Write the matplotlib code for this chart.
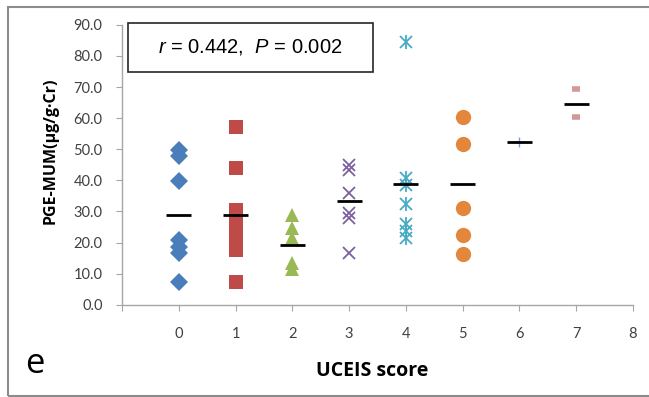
import matplotlib
matplotlib.use("Agg")
import matplotlib.pyplot as plt
from matplotlib.patches import Rectangle

plt.rcParams["mathtext.fontset"] = "custom"
plt.rcParams["mathtext.it"] = "Liberation Sans:italic"
plt.rcParams["mathtext.rm"] = "Liberation Sans"

# PGE-MUM values per UCEIS score group
score0 = [49.9, 47.7, 39.7, 20.9, 18.7, 16.6, 7.4]
score1 = [57.2, 44.0, 30.5, 27.5, 23.5, 20.5, 17.5, 7.4]
score2 = [29.0, 24.8, 21.4, 13.4, 11.4]
score3 = [44.8, 43.4, 35.9, 29.4, 27.8, 16.5]
score4 = [84.5, 40.9, 38.5, 32.3, 25.8, 23.6, 21.6]
score5 = [60.4, 51.8, 31.0, 22.3, 16.2]
score6 = [52.3]
score7 = [69.2, 60.4]
groups = [score0, score1, score2, score3, score4, score5, score6, score7]

# group means (black bars)
means = [28.9, 28.9, 19.2, 33.4, 38.7, 38.7, 52.3, 64.6]

x_ticks = [-1, 0, 1, 2, 3, 4, 5, 6, 7, 8]
x_ticklabels = ["", "0", "1", "2", "3", "4", "5", "6", "7", "8"]
y_ticks = [0, 10, 20, 30, 40, 50, 60, 70, 80, 90]

styles = [
    dict(marker="D", color="#4A7EBB", ms=9, mew=0),
    dict(marker="s", color="#BE4B48", ms=10.5, mew=0),
    dict(marker="^", color="#98B954", ms=10.5, mew=0),
    dict(marker="x", color="#7D60A0", ms=8.5, mew=1.3),
    dict(marker="x", color="#46AAC5", ms=8.5, mew=1.3),
    dict(marker="o", color="#E2873B", ms=11, mew=0),
    dict(marker="+", color="#7B9FD2", ms=7, mew=1.0),
    dict(marker="_", color="#D69896", ms=6, mew=4),
]

fig = plt.figure(figsize=(6.49, 3.97), dpi=100)
ax = fig.add_axes([0.188, 0.2325, 0.787, 0.705])

for i, (vals, st) in enumerate(zip(groups, styles)):
    xs = [i] * len(vals)
    ax.plot(xs, vals, linestyle="none", marker=st["marker"], color=st["color"],
            ms=st["ms"], mew=st["mew"], zorder=3)
    if i == 4:
        # asterisk: x with a vertical stroke
        ax.plot(xs, vals, linestyle="none", marker="|", color=st["color"],
                ms=st["ms"] + 1.5, mew=st["mew"], zorder=3)

ax.hlines(means, [i - 0.22 for i in range(len(means))],
          [i + 0.22 for i in range(len(means))], colors="black", lw=2, zorder=4)

ax.set_xlim(-1, 8)
ax.set_ylim(0, 90)
ax.set_xticks(x_ticks)
ax.set_xticklabels(x_ticklabels)
ax.set_yticks(y_ticks)
ax.set_yticklabels([f"{v:.1f}" for v in y_ticks])

for side in ["top", "right"]:
    ax.spines[side].set_visible(False)
for side in ["left", "bottom"]:
    ax.spines[side].set_color("#A6A6A6")
    ax.spines[side].set_linewidth(1.0)

ax.tick_params(axis="both", direction="out", length=4, color="#A6A6A6",
               labelcolor="#404040", labelsize=10.5)
ax.tick_params(axis="x", pad=12)
ax.tick_params(axis="y", pad=10)
for lab in ax.get_xticklabels() + ax.get_yticklabels():
    lab.set_family("Lato")

ax.set_xlabel("UCEIS score", fontsize=14, fontweight="bold", family="Open Sans")
ax.xaxis.set_label_coords(0.49, -0.2)
ax.set_ylabel("PGE-MUM(µg/g·Cr)", fontsize=11.5, fontweight="bold", family="Open Sans")
ax.yaxis.set_label_coords(-0.125, 0.55)

# statistics box
ax.add_patch(Rectangle((0.012, 0.832), 0.479, 0.175, transform=ax.transAxes,
                       facecolor="white", edgecolor="#262626", lw=1.2,
                       clip_on=False, zorder=5))
ax.text(0.2515, 0.92, r"$\it{r}$ = 0.442,  $\it{P}$ = 0.002", transform=ax.transAxes,
        ha="center", va="center", fontsize=14.5, family="Liberation Sans", zorder=6)

fig.text(0.054, 0.083, "e", fontsize=25, family="Open Sans", ha="center", va="center")

# outer frame
fig.patches.append(Rectangle((8 / 649, 1 / 397), 1.0, 389.5 / 397,
                             transform=fig.transFigure, fill=False,
                             edgecolor="#8C8C8C", lw=1.5))

fig.savefig("out.png", dpi=100)
